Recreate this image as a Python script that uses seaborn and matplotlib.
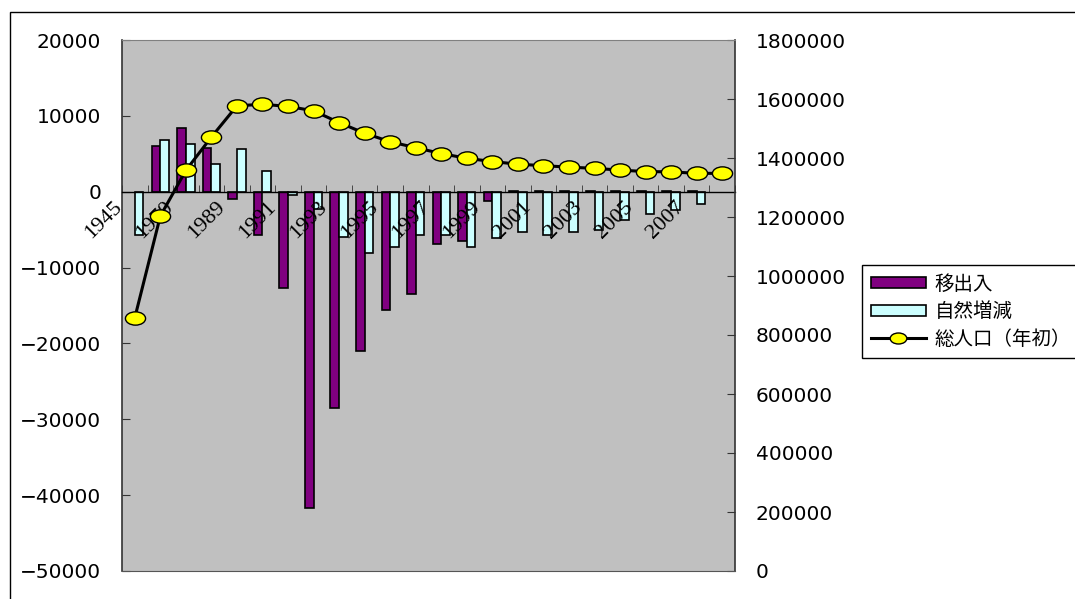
import numpy as np
import pandas as pd
import matplotlib.pyplot as plt
import matplotlib.patches as mpatches
from matplotlib.lines import Line2D
from matplotlib.path import Path
from matplotlib.ticker import StrMethodFormatter
from matplotlib.transforms import Affine2D, ScaledTranslation
import seaborn as sns

# categorias (solo se rotulan las pares)
years = ["1945", "1960", "1970", "1985", "1989", "1990", "1991", "1992",
         "1993", "1994", "1995", "1996", "1997", "1998", "1999", "2000",
         "2001", "2002", "2003", "2004", "2005", "2006", "2007", "2008"]
tick_labels = ["1945", "1970", "1989", "1991", "1993", "1995",
               "1997", "1999", "2001", "2003", "2005", "2007"]

# 移出入
migration = [np.nan, 6020, 8400, 5710, -900, -5750, -12720, -41700, -28460,
             -20970, -15590, -13470, -6900, -6550, -1170, 100, 100, 100,
             100, 100, 100, 100, 100, np.nan]
# 自然増減
natural = [-5750, 6850, 6240, 3680, 5670, 2710, -460, -2220, -6000, -8130,
           -7340, -5750, -5750, -7340, -6100, -5360, -5750, -5360, -5090,
           -3770, -2930, -2450, -1610, np.nan]
# 総人口(年初)
population = [858000, 1203000, 1358000, 1471000, 1577000, 1582000, 1575000,
              1560000, 1520000, 1484000, 1455000, 1435000, 1415000, 1399000,
              1388000, 1379000, 1374000, 1369000, 1365000, 1359000, 1354000,
              1353000, 1348000, 1348000]

series_names = ["移出入", "自然増減"]
purple = "#800080"
cyan = "#CCFFFF"

df = pd.DataFrame({
    "year": years * 2,
    "value": migration + natural,
    "series": [series_names[0]] * len(years) + [series_names[1]] * len(years),
})

plt.rcParams["font.family"] = ["DejaVu Sans"]
fig = plt.figure(figsize=(10.75, 5.99), dpi=100)
ax = fig.add_axes([122 / 1075, 1 - 571 / 599, 613 / 1075, 531 / 599])
ax.set_facecolor("#C0C0C0")

sns.barplot(data=df, x="year", y="value", hue="series", order=years,
            hue_order=series_names, palette=[purple, cyan], saturation=1,
            width=0.68, gap=0, edgecolor="black", linewidth=1.2,
            legend=False, ax=ax)

ax.set_xlim(-0.5, len(years) - 0.5)
ax.set_ylim(-50000, 20000)
ax.set_yticks(np.arange(-50000, 20001, 10000))
ax.set_xlabel("")
ax.set_ylabel("")

# eje x en el cero
ax.spines["bottom"].set_position(("data", 0))
ax.spines["bottom"].set_color("black")
ax.spines["bottom"].set_linewidth(1.0)
ax.spines["top"].set_visible(False)
ax.spines["right"].set_visible(False)
ax.spines["left"].set_color("#333333")
ax.spines["left"].set_linewidth(1.2)

ax.set_xticks(range(0, len(years), 2))
ax.set_xticklabels(tick_labels, rotation=45, ha="right", va="center",
                   rotation_mode="anchor", fontfamily="Liberation Serif",
                   fontsize=16)
ax.set_xticks(np.arange(-0.5, len(years), 1), minor=True)
ax.tick_params(axis="x", which="major", length=0, pad=9)
ax.tick_params(axis="x", which="minor", direction="in", length=5,
               color="#333333")
ax.tick_params(axis="y", direction="in", length=6, pad=15, labelsize=14.5,
               color="#333333")
shift = ScaledTranslation(-15 / 100, 0, fig.dpi_scale_trans)
for lab in ax.get_xticklabels():
    lab.set_transform(lab.get_transform() + shift)

# eje derecho: poblacion
ax2 = ax.twinx()
ellipse = Path.unit_circle().transformed(Affine2D().scale(1, 0.66))
sns.lineplot(x=np.arange(len(years)), y=population, ax=ax2, color="black",
             linewidth=2.2, marker=ellipse, markersize=14.5,
             markerfacecolor="#FFFF00", markeredgecolor="black",
             markeredgewidth=1.0)
ax2.set_ylim(0, 1800000)
ax2.set_yticks(np.arange(0, 1800001, 200000))
ax2.yaxis.set_major_formatter(StrMethodFormatter("{x:.0f}"))
ax2.set_xlim(-0.5, len(years) - 0.5)
ax2.set_ylabel("")
ax2.tick_params(axis="y", direction="in", length=6, pad=15, labelsize=14.5,
                color="#333333")
ax2.spines["left"].set_visible(False)
ax2.spines["right"].set_color("#333333")
ax2.spines["right"].set_linewidth(1.2)
ax2.spines["top"].set_color("#808080")
ax2.spines["bottom"].set_color("#555555")

# leyenda
handles = [
    mpatches.Patch(facecolor=purple, edgecolor="black", linewidth=1.2),
    mpatches.Patch(facecolor=cyan, edgecolor="black", linewidth=1.2),
    Line2D([], [], color="black", linewidth=2.2, marker=ellipse,
           markersize=12, markerfacecolor="#FFFF00", markeredgecolor="black",
           markeredgewidth=1.0),
]
fig.legend(handles, ["移出入", "自然増減", "総人口（年初）"],
           loc="upper left", bbox_to_anchor=(862 / 1075, 1 - 265 / 599),
           bbox_transform=fig.transFigure, borderaxespad=0,
           prop={"family": ["Noto Sans CJK JP", "DejaVu Sans"], "size": 14},
           frameon=True, fancybox=False, edgecolor="black", framealpha=1,
           handlelength=2.85, handleheight=0.48, handletextpad=0.45,
           labelspacing=0.33, borderpad=0.45)

# marco exterior
fig.patches.append(mpatches.Rectangle((10 / 1075, -0.1), 1.2, 1.1 - 12 / 599,
                                      transform=fig.transFigure, fill=False,
                                      edgecolor="black", linewidth=1.0))

fig.savefig("out.png", dpi=100)
